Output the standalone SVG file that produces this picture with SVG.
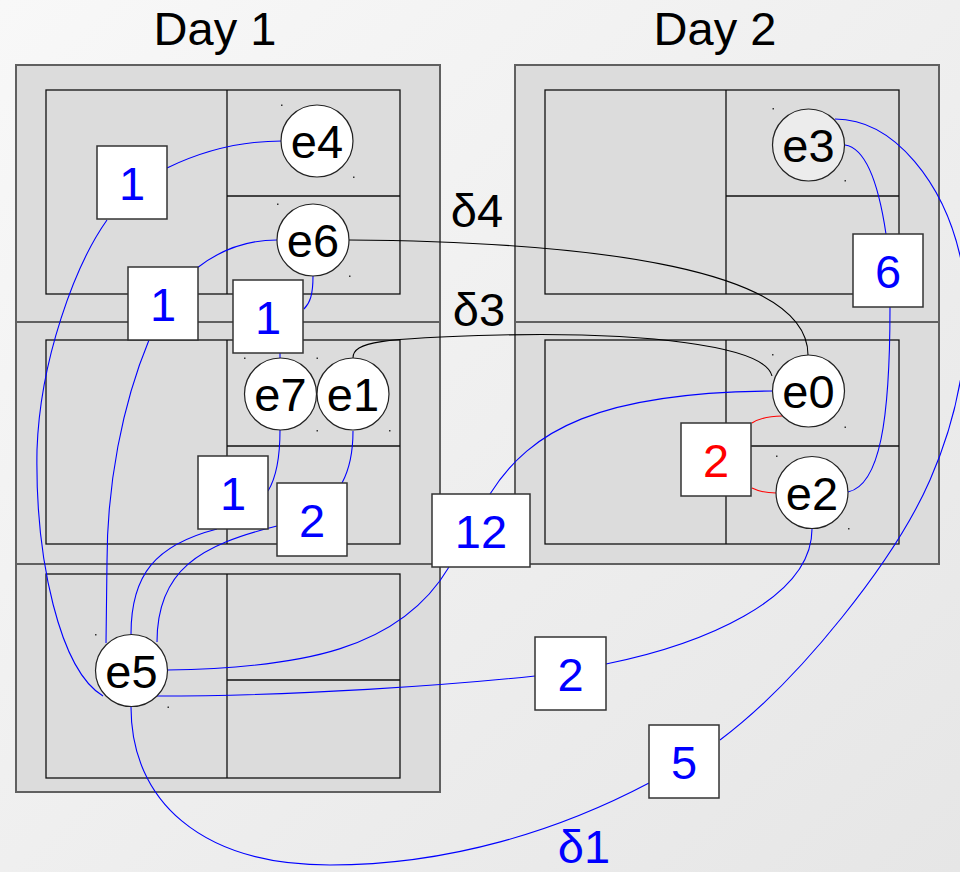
<svg xmlns="http://www.w3.org/2000/svg" width="960" height="872" viewBox="0 0 960 872">
<defs>
<linearGradient id="bg" x1="0" y1="0" x2="1" y2="1">
<stop offset="0" stop-color="#f8f8f8"/>
<stop offset="1" stop-color="#e6e6e6"/>
</linearGradient>
<style>
.panel{fill:#dcdcdc;stroke:#606060;stroke-width:2}
.inner{fill:#dcdcdc;stroke:#111;stroke-width:1.3}
.div{stroke:#111;stroke-width:1.3;fill:none}
.ev circle{fill:#fff;stroke:#222;stroke-width:1.2}
.t{font-family:"Liberation Sans",Arial,sans-serif;font-size:47px;text-anchor:middle}
.ev text{fill:#000}
.bx rect{fill:#fff;stroke:#333;stroke-width:1.5}
.bx text{fill:#0000ff}
.blue{stroke:#0000ff;stroke-width:1.1;fill:none}
.black{stroke:#000;stroke-width:1.1;fill:none}
.red{stroke:#ff0000;stroke-width:1.1;fill:none}
.dot{fill:#333}
</style>
</defs>
<rect width="960" height="872" fill="url(#bg)"/>
<g id="titles">
<text class="t" x="215" y="45">Day 1</text>
<text class="t" x="715" y="45">Day 2</text>
<text class="t" x="477" y="227">δ4</text>
<text class="t" x="479" y="326">δ3</text>
<text class="t" x="584" y="863" fill="#0000ff">δ1</text>
</g>
<g id="day1">
<rect class="panel" x="16" y="65" width="424" height="727"/>
<line x1="16" y1="322" x2="440" y2="322" stroke="#606060" stroke-width="2"/>
<line x1="16" y1="564" x2="440" y2="564" stroke="#606060" stroke-width="2"/>
<rect class="inner" x="46" y="90" width="354" height="204"/>
<path class="div" d="M227,90V294M227,196H400"/>
<rect class="inner" x="46" y="340" width="354" height="204"/>
<path class="div" d="M227,340V544M227,446H400"/>
<rect class="inner" x="46" y="574" width="354" height="204"/>
<path class="div" d="M227,574V778M227,680H400"/>
</g>
<g id="day2">
<rect class="panel" x="515" y="65" width="424" height="499"/>
<line x1="515" y1="322" x2="939" y2="322" stroke="#606060" stroke-width="2"/>
<rect class="inner" x="545" y="90" width="354" height="204"/>
<path class="div" d="M726,90V294M726,196H899"/>
<rect class="inner" x="545" y="340" width="354" height="204"/>
<path class="div" d="M726,340V544M726,446H899"/>
</g>
<g id="connectors">
<path class="blue" d="M167,168 C200,152 240,141 282,141"/>
<path class="blue" d="M107,220 C75,265 40,360 37,450 C35,560 60,670 103,696"/>
<path class="blue" d="M197,268 C220,250 245,240 277,240"/>
<path class="blue" d="M149,340 C122,405 107,485 107,562 L106,643"/>
<path class="blue" d="M313,276 C313,295 310,303 304,309"/>
<path class="blue" d="M280,352 V358"/>
<path class="blue" d="M280,430 C280,460 276,478 268,491"/>
<path class="blue" d="M353,431 C353,455 349,470 342,483"/>
<path class="blue" d="M217,529 C155,545 131,575 131,634"/>
<path class="blue" d="M277,526 C200,545 157,570 157,642"/>
<path class="blue" d="M490,494 C530,430 600,392 773,391"/>
<path class="blue" d="M449,567 C400,650 300,668 167,670"/>
<path class="blue" d="M157,696 C300,696 450,685 535,676"/>
<path class="blue" d="M606,664 C700,645 812,600 812,529"/>
<path class="blue" d="M848,492 C880,485 890,420 890,307"/>
<path class="blue" d="M845,145 C865,148 878,180 886,234"/>
<path class="blue" d="M835,119 C895,119 945,185 961,260 C973,320 965,400 930,480 C895,560 800,680 720,740"/>
<path class="blue" d="M131,707 C131,800 200,865 330,865 C450,865 560,830 649,783"/>
<path class="black" d="M349,240 C600,242 808,270 808,355"/>
<path class="black" d="M353,358 C353,342 380,338 500,335 C640,332 765,345 772,376"/>
<path class="red" d="M752,423 C760,418 770,416 782,416"/>
<path class="red" d="M752,488 C760,492 768,493 776,493"/>
</g>
<g id="dots">
<rect class="dot" x="281" y="104.5" width="1.5" height="1.5"/>
<rect class="dot" x="353" y="176.5" width="1.5" height="1.5"/>
<rect class="dot" x="277" y="203.5" width="1.5" height="1.5"/>
<rect class="dot" x="349" y="275.5" width="1.5" height="1.5"/>
<rect class="dot" x="244" y="357.5" width="1.5" height="1.5"/>
<rect class="dot" x="316.5" y="357.5" width="1.5" height="1.5"/>
<rect class="dot" x="316.5" y="430" width="1.5" height="1.5"/>
<rect class="dot" x="389" y="430" width="1.5" height="1.5"/>
<rect class="dot" x="95" y="634" width="1.5" height="1.5"/>
<rect class="dot" x="167.5" y="706.5" width="1.5" height="1.5"/>
<rect class="dot" x="772.5" y="108" width="1.5" height="1.5" fill="#777"/>
<rect class="dot" x="844.5" y="180" width="1.5" height="1.5" fill="#777"/>
<rect class="dot" x="772" y="354" width="1.5" height="1.5"/>
<rect class="dot" x="844.5" y="426.5" width="1.5" height="1.5"/>
<rect class="dot" x="776" y="455.5" width="1.5" height="1.5"/>
<rect class="dot" x="848" y="528" width="1.5" height="1.5"/>
</g>
<g id="e4" class="ev"><circle cx="317" cy="141" r="36"/><text class="t" x="317" y="158">e4</text></g>
<g id="e6" class="ev"><circle cx="313" cy="240" r="36"/><text class="t" x="313" y="257">e6</text></g>
<g id="e7" class="ev"><circle cx="280.5" cy="394" r="36"/><text class="t" x="280.5" y="411">e7</text></g>
<g id="e1" class="ev"><circle cx="353" cy="394" r="36"/><text class="t" x="353" y="411">e1</text></g>
<g id="e5" class="ev"><circle cx="131.5" cy="670.5" r="36"/><text class="t" x="131.5" y="687.5">e5</text></g>
<g id="e3" class="ev"><circle cx="808.5" cy="145" r="36" style="fill:#ececec"/><text class="t" x="808.5" y="162">e3</text></g>
<g id="e0" class="ev"><circle cx="808.5" cy="391" r="36"/><text class="t" x="808.5" y="408">e0</text></g>
<g id="e2" class="ev"><circle cx="812" cy="492.5" r="36"/><text class="t" x="812" y="509.5">e2</text></g>
<g id="w1a" class="bx"><rect x="97" y="146" width="70" height="73"/><text class="t" x="132" y="199.5">1</text></g>
<g id="w1b" class="bx"><rect x="128" y="267" width="70" height="73"/><text class="t" x="163" y="320.5">1</text></g>
<g id="w1c" class="bx"><rect x="233" y="280" width="70" height="73"/><text class="t" x="268" y="333.5">1</text></g>
<g id="w1d" class="bx"><rect x="198" y="456" width="70" height="73"/><text class="t" x="233" y="509.5">1</text></g>
<g id="w2a" class="bx"><rect x="277" y="483" width="70" height="73"/><text class="t" x="312" y="536.5">2</text></g>
<g id="w12" class="bx"><rect x="432" y="494" width="98" height="73"/><text class="t" x="481" y="547.5">12</text></g>
<g id="w2r" class="bx"><rect x="681" y="423" width="70" height="73"/><text class="t" x="716" y="476.5" style="fill:#ff0000">2</text></g>
<g id="w6" class="bx"><rect x="853" y="234" width="70" height="73"/><text class="t" x="888" y="287.5">6</text></g>
<g id="w2b" class="bx"><rect x="535" y="637" width="71" height="73"/><text class="t" x="570.5" y="690.5">2</text></g>
<g id="w5" class="bx"><rect x="649" y="725" width="70" height="73"/><text class="t" x="684" y="778.5">5</text></g>
</svg>
